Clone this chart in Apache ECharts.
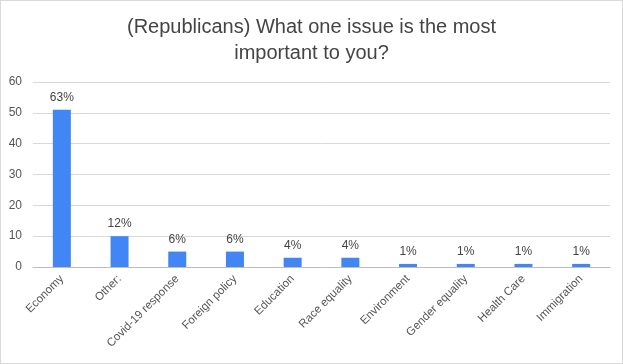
<!DOCTYPE html>
<html><head><meta charset="utf-8">
<script src="https://cdn.jsdelivr.net/npm/echarts@6/dist/echarts.min.js"></script>
<style>html,body{margin:0;padding:0;background:#fff}#c{width:621px;height:362px;border:1px solid #d9d9d9}</style>
</head><body><div id="c"></div>
<script>
const titleText = "(Republicans) What one issue is the most\nimportant to you?";
const categories = ["Economy","Other:","Covid-19 response","Foreign policy","Education","Race equality","Environment","Gender equality","Health Care","Immigration"];
const counts = [51,10,5,5,3,3,1,1,1,1];
const percentLabels = ["63%","12%","6%","6%","4%","4%","1%","1%","1%","1%"];
const yTicks = {min:0,max:60,interval:10};

const chart = echarts.init(document.getElementById('c'));
chart.setOption({
  animation:false,
  title:{text:titleText,left:'center',top:8,textStyle:{fontFamily:'Liberation Sans, Arial',fontSize:20,fontWeight:'normal',color:'#444',lineHeight:26}},
  grid:{left:32,right:12,top:81,bottom:96},
  xAxis:{type:'category',data:categories,
    axisLine:{lineStyle:{color:'#bdbdbd'}},axisTick:{show:false},
    axisLabel:{rotate:45,interval:0,fontFamily:'Liberation Sans, Arial',fontSize:11.5,color:'#555',margin:10}},
  yAxis:{type:'value',min:yTicks.min,max:yTicks.max,interval:yTicks.interval,
    axisLine:{show:false},axisTick:{show:false},
    splitLine:{lineStyle:{color:'#d9d9d9'}},
    axisLabel:{fontFamily:'Liberation Sans, Arial',fontSize:12,color:'#555',margin:11}},
  series:[{type:'bar',data:counts,barWidth:18,itemStyle:{color:'#4285f4'},
    label:{show:true,position:'top',distance:6,fontFamily:'Liberation Sans, Arial',fontSize:12,color:'#444',
      formatter:p=>percentLabels[p.dataIndex]}}]
});
</script></body></html>
